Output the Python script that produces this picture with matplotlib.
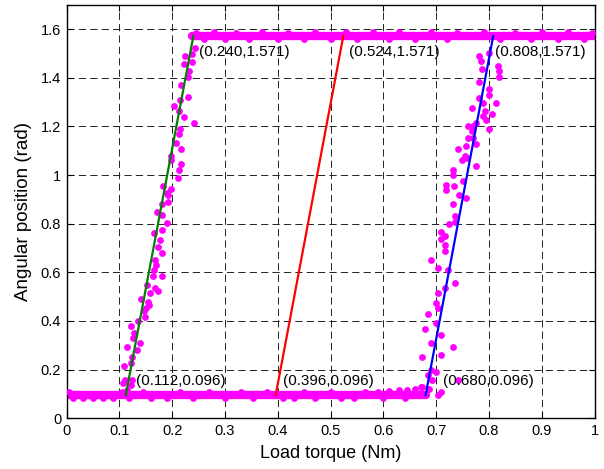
import numpy as np
import matplotlib.pyplot as plt

plt.rcParams['font.family'] = ['Liberation Sans', 'DejaVu Sans']
plt.rcParams['lines.scale_dashes'] = False

# fitted hysteresis edges: (torque, angle) at bottom and top of each rise
edge_x0 = [0.112, 0.396, 0.680]
edge_x1 = [0.240, 0.524, 0.808]
y_low = 0.096
y_high = 1.571
edge_colors = ['#007f00', 'r', 'b']

# measured points on the plateaus (flat runs plus the points that stick out)
low_run = [0.004, 0.680]
high_run = [0.238, 1.0]
low_x = [0.004, 0.012, 0.031, 0.050, 0.069, 0.087, 0.105, 0.118, 0.145, 0.160,
         0.190, 0.215, 0.240, 0.270, 0.300, 0.330, 0.352, 0.380, 0.410, 0.430,
         0.450, 0.470, 0.500, 0.520, 0.545, 0.565, 0.590, 0.610, 0.630, 0.645,
         0.660, 0.672, 0.600, 0.640]
low_y = [0.108, 0.082, 0.083, 0.083, 0.083, 0.082, 0.108, 0.082, 0.109, 0.083,
         0.083, 0.108, 0.084, 0.107, 0.083, 0.108, 0.083, 0.108, 0.082, 0.084,
         0.108, 0.083, 0.108, 0.082, 0.083, 0.108, 0.110, 0.112, 0.115, 0.118,
         0.122, 0.130, 0.084, 0.085]
high_x = [0.245, 0.260, 0.280, 0.300, 0.320, 0.345, 0.370, 0.400, 0.420, 0.450,
          0.470, 0.500, 0.530, 0.550, 0.580, 0.610, 0.630, 0.660, 0.690, 0.720,
          0.740, 0.790, 0.820, 0.850, 0.880, 0.900, 0.930, 0.950, 0.980, 0.995]
high_y = [1.585, 1.558, 1.586, 1.560, 1.585, 1.558, 1.586, 1.559, 1.584, 1.558,
          1.588, 1.560, 1.586, 1.557, 1.586, 1.558, 1.588, 1.557, 1.586, 1.560,
          1.585, 1.586, 1.558, 1.585, 1.558, 1.588, 1.560, 1.586, 1.558, 1.585]

# measured points while the angle rises (first edge)
rise1_x = [0.2235, 0.223, 0.237, 0.238, 0.232, 0.230, 0.216, 0.2155, 0.229, 0.2035,
           0.212, 0.223, 0.241, 0.214, 0.212, 0.2065, 0.2165, 0.197, 0.198, 0.216,
           0.212, 0.211, 0.183, 0.197, 0.192, 0.2425, 0.190, 0.180, 0.192, 0.172,
           0.180, 0.190, 0.166, 0.180, 0.176, 0.173, 0.180, 0.167, 0.170, 0.165,
           0.180, 0.164, 0.152, 0.167, 0.173, 0.158, 0.140, 0.154, 0.156, 0.150,
           0.146, 0.148, 0.135, 0.122, 0.127, 0.126, 0.139, 0.115, 0.134, 0.123,
           0.121, 0.108, 0.111, 0.123, 0.122, 0.107, 0.115]
rise1_y = [1.490, 1.457, 1.463, 1.498, 1.428, 1.402, 1.370, 1.310, 1.319, 1.285,
           1.261, 1.239, 1.215, 1.190, 1.169, 1.132, 1.106, 1.079, 1.063, 1.046,
           1.020, 0.987, 0.953, 0.942, 0.919, 1.522, 0.925, 0.882, 0.887, 0.848,
           0.836, 0.802, 0.761, 0.772, 0.734, 0.706, 0.678, 0.651, 0.630, 0.610,
           0.583, 0.583, 0.549, 0.535, 0.524, 0.514, 0.489, 0.480, 0.466, 0.452,
           0.439, 0.418, 0.398, 0.380, 0.349, 0.329, 0.308, 0.295, 0.281, 0.254,
           0.227, 0.215, 0.158, 0.158, 0.137, 0.144, 0.117]

# measured points while the angle rises (third edge)
rise3_x = [0.782, 0.800, 0.785, 0.787, 0.817, 0.819, 0.819, 0.781, 0.800, 0.782,
           0.800, 0.814, 0.789, 0.768, 0.806, 0.792, 0.789, 0.794, 0.775, 0.760,
           0.769, 0.800, 0.767, 0.760, 0.769, 0.775, 0.741, 0.756, 0.754, 0.758,
           0.748, 0.776, 0.731, 0.731, 0.750, 0.718, 0.733, 0.718, 0.743, 0.757,
           0.731, 0.735, 0.736, 0.724, 0.710, 0.717, 0.710, 0.717, 0.717, 0.691,
           0.704, 0.722, 0.736, 0.717, 0.704, 0.699, 0.704, 0.685, 0.699, 0.678,
           0.710, 0.691, 0.731, 0.710, 0.673, 0.691, 0.699, 0.685, 0.692, 0.687,
           0.674, 0.741, 0.710, 0.704]
rise3_y = [1.490, 1.501, 1.467, 1.436, 1.450, 1.427, 1.402, 1.381, 1.353, 1.316,
           1.330, 1.296, 1.296, 1.275, 1.252, 1.261, 1.241, 1.227, 1.214, 1.200,
           1.200, 1.189, 1.179, 1.152, 1.152, 1.129, 1.106, 1.120, 1.077, 1.070,
           1.063, 1.038, 1.022, 1.001, 0.974, 0.959, 0.953, 0.939, 0.919, 0.905,
           0.881, 0.833, 0.806, 0.798, 0.764, 0.750, 0.736, 0.713, 0.689, 0.651,
           0.619, 0.610, 0.558, 0.535, 0.514, 0.473, 0.452, 0.429, 0.393, 0.367,
           0.342, 0.308, 0.295, 0.261, 0.251, 0.198, 0.191, 0.178, 0.158, 0.120,
           0.130, 0.158, 0.110, 0.096]

# where the corner coordinates are written
lab_low_x = [0.131, 0.410, 0.712]
lab_low_y = 0.153
lab_high_x = [0.251, 0.534, 0.8115]
lab_high_y = 1.504

fig = plt.figure(figsize=(6.04, 4.69), dpi=100)
ax = fig.add_axes([0.1104, 0.1081, 0.874, 0.8819])

mag = '#ff00ff'
ax.plot(low_run, [y_low, y_low], color=mag, lw=6.0, solid_capstyle='round', zorder=2)
ax.plot(high_run, [y_high, y_high], color=mag, lw=6.0, solid_capstyle='round', zorder=2)
for xs, ys in [(low_x, low_y), (high_x, high_y), (rise1_x, rise1_y), (rise3_x, rise3_y)]:
    ax.plot(xs, ys, 'o', color=mag, ms=4.9, mew=0, zorder=3)

for x0, x1, c in zip(edge_x0, edge_x1, edge_colors):
    ax.plot([x0, x1], [y_low, y_high], color=c, lw=1.6, zorder=4)

for x0, lx in zip(edge_x0, lab_low_x):
    ax.text(lx, lab_low_y, '(%.3f,%.3f)' % (x0, y_low), fontsize=11,
            va='center', ha='left', zorder=5)
for x1, lx in zip(edge_x1, lab_high_x):
    ax.text(lx, lab_high_y, '(%.3f,%.3f)' % (x1, y_high), fontsize=11,
            va='center', ha='left', zorder=5)

ax.set_xlim(0, 1)
ax.set_ylim(0, 1.7)
ax.set_xticks(np.arange(0, 1.01, 0.1))
ax.set_xticklabels(['0', '0.1', '0.2', '0.3', '0.4', '0.5', '0.6', '0.7', '0.8', '0.9', '1'])
ax.set_yticks(np.arange(0, 1.61, 0.2))
ax.set_yticklabels(['0', '0.2', '0.4', '0.6', '0.8', '1', '1.2', '1.4', '1.6'])
ax.tick_params(direction='in', top=True, right=True, length=4, width=0.8,
               labelsize=10.5, pad=4)
ax.grid(True, color='#222222', lw=0.7, linestyle=(0, (5.2, 3.0)))
ax.set_axisbelow(True)
for s in ax.spines.values():
    s.set_linewidth(1.0)

ax.set_xlabel('Load torque (Nm)', fontsize=13, labelpad=5)
ax.set_ylabel('Angular position (rad)', fontsize=13.5, labelpad=6)

fig.savefig('out.png', dpi=100)
